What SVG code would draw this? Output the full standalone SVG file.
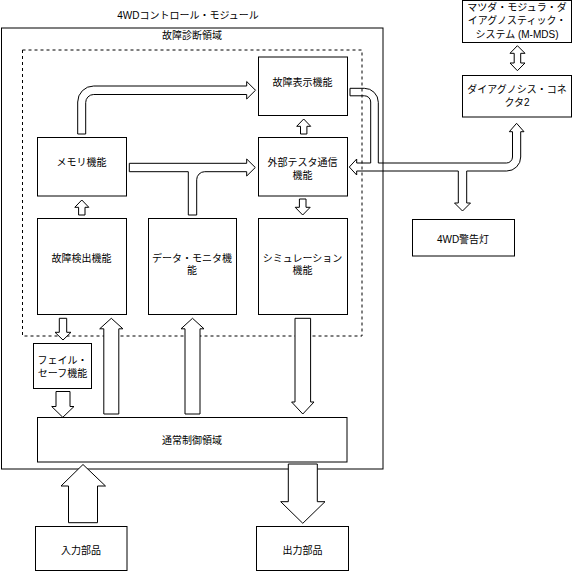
<svg xmlns="http://www.w3.org/2000/svg" width="573" height="572" viewBox="0 0 573 572">
<style>
.box{fill:#fff;stroke:#000;stroke-width:1}
.cont{fill:none;stroke:#000;stroke-width:1}
.dash{fill:none;stroke:#000;stroke-width:1;stroke-dasharray:3 3}
.arr{fill:#fff;stroke:#000;stroke-width:1;stroke-linejoin:miter}
.arrn{fill:none;stroke:#000;stroke-width:1}
text{font-family:"Liberation Sans","Noto Sans CJK JP",sans-serif;font-size:10px;fill:#000;text-anchor:middle}
</style>
<rect x="0" y="0" width="573" height="572" fill="#fff"/>
<g id="container-4wd">
<rect class="cont" x="1.5" y="28" width="381.5" height="441"/>
<text x="188" y="19">4WDコントロール・モジュール</text>
</g>
<g id="container-diag">
<rect class="dash" x="22.5" y="50" width="339.5" height="286"/>
<text x="192" y="38.5">故障診断領域</text>
</g>
<g id="node-display">
<rect class="box" x="258.5" y="57" width="89" height="58.5"/>
<text x="302.5" y="85.5">故障表示機能</text>
</g>
<g id="node-memory">
<rect class="box" x="37.5" y="137.5" width="89" height="58.5"/>
<text x="81.5" y="165.5">メモリ機能</text>
</g>
<g id="node-tester">
<rect class="box" x="258.5" y="137.5" width="89" height="58.5"/>
<text x="302.5" y="165.5">外部テスタ通信</text>
<text x="302.5" y="179">機能</text>
</g>
<g id="node-detect">
<rect class="box" x="37.5" y="218.5" width="89" height="96"/>
<text x="81.5" y="261.5">故障検出機能</text>
</g>
<g id="node-monitor">
<rect class="box" x="148.5" y="218.5" width="88" height="96"/>
<text x="192" y="261.5">データ・モニタ機</text>
<text x="192" y="274">能</text>
</g>
<g id="node-sim">
<rect class="box" x="258.5" y="218.5" width="89" height="96"/>
<text x="302.5" y="261.5">シミュレーション</text>
<text x="302.5" y="274">機能</text>
</g>
<g id="node-failsafe">
<rect class="box" x="33.5" y="343.5" width="58" height="45"/>
<text x="62.5" y="364.3">フェイル・</text>
<text x="62.5" y="376.7">セーフ機能</text>
</g>
<g id="node-normal">
<rect class="box" x="37.5" y="417.5" width="309.5" height="44.5"/>
<text x="192" y="443.5">通常制御領域</text>
</g>
<g id="node-input">
<rect class="box" x="35.5" y="526.5" width="91.5" height="44"/>
<text x="81" y="553.5">入力部品</text>
</g>
<g id="node-output">
<rect class="box" x="256.5" y="526.5" width="92" height="44"/>
<text x="302.5" y="553.5">出力部品</text>
</g>
<g id="node-mmds">
<rect class="box" x="462.5" y="0.5" width="109" height="42"/>
<text x="517" y="11">マツダ・モジュラ・ダ</text>
<text x="517" y="24.3">イアグノスティック・</text>
<text x="517" y="38">システム (M-MDS)</text>
</g>
<g id="node-connector">
<rect class="box" x="462.5" y="75.5" width="109" height="41.5"/>
<text x="517" y="92.7">ダイアグノシス・コネ</text>
<text x="517" y="106">クタ2</text>
</g>
<g id="node-lamp">
<rect class="box" x="412.5" y="219.5" width="102" height="36.5"/>
<text x="463" y="243">4WD警告灯</text>
</g>
<g id="connectors">
<!-- memory -> display -->
<path class="arr" d="M77.7,134 L77.7,102 A16,16 0 0 1 93.7,86 L246.7,86 L246.7,81.5 L255.5,90.25 L246.7,99 L246.7,94.5 L93.7,94.5 A8,8 0 0 0 85.7,102.5 L85.7,134 Z"/>
<!-- memory -> tester, monitor -> tester -->
<path class="arr" d="M129.3,163.3 L246.7,163.3 L246.7,159 L255.3,167.5 L246.7,176 L246.7,171.7 L204.7,171.7 A8,8 0 0 0 196.7,179.7 L196.7,215 L188.3,215 L188.3,171.7 L129.3,171.7 Z"/>
<!-- detect -> memory -->
<path class="arr" d="M78.6,215 L78.6,207.3 L74.8,207.3 L81.8,200 L88.8,207.3 L85,207.3 L85,215 Z"/>
<!-- tester -> display -->
<path class="arr" d="M300.5,134 L300.5,126.3 L296.7,126.3 L303.7,119 L310.7,126.3 L306.9,126.3 L306.9,134 Z"/>
<!-- tester -> sim -->
<path class="arr" d="M299.4,199 L299.4,207.3 L295.2,207.3 L302.7,215 L310.2,207.3 L306,207.3 L306,199 Z"/>
<!-- detect -> failsafe -->
<path class="arr" d="M59.3,318.3 L59.3,332.3 L55,332.3 L63,340 L71,332.3 L66.7,332.3 L66.7,318.3 Z"/>
<!-- failsafe -> normal -->
<path class="arr" d="M56,391.5 L56,406.5 L51.7,406.5 L62.8,417.3 L74,406.5 L70,406.5 L70,391.5 Z"/>
<!-- normal -> detect -->
<path class="arr" d="M103.8,414 L103.8,328.8 L99.7,328.8 L111.3,318.3 L122.9,328.8 L118.8,328.8 L118.8,414 Z"/>
<!-- normal -> monitor -->
<path class="arr" d="M185,414 L185,328.8 L181,328.8 L192.5,318.3 L204,328.8 L200,328.8 L200,414 Z"/>
<!-- sim -> normal -->
<path class="arr" d="M295,318.3 L295,402 L291.6,402 L302.8,414 L314,402 L310.6,402 L310.6,318.3 Z"/>
<!-- input -> normal -->
<path class="arr" d="M68.5,522.7 L68.5,486 L61,486 L83,464.5 L105.5,486 L97.5,486 L97.5,522.7 Z"/>
<!-- normal -> output -->
<path class="arr" d="M288.3,464 L288.3,501.7 L280.7,501.7 L302.8,523.3 L325,501.7 L317.3,501.7 L317.3,464 Z"/>
<!-- mmds <-> connector -->
<path class="arr" d="M517.4,45.7 L525,53.3 L520.7,53.3 L520.7,63 L525,63 L517.4,70.7 L510,63 L514.2,63 L514.2,53.3 L510,53.3 Z"/>
<!-- display/tester <-> connector / lamp -->
<path class="arrn" d="M350,88.3 L364.3,88.3 A14,14 0 0 1 378.3,102.3 L378.3,163 L506.5,163 A6,6 0 0 0 512.5,157 L512.5,131.7 L509.3,131.7 L516.6,123.3 L524,131.7 L520.7,131.7 L520.7,157 A14,14 0 0 1 506.7,171 L466.7,171 L466.7,203 L470.5,203 L462.5,211 L454.5,203 L458.3,203 L458.3,171 L356.7,171 L356.7,175 L349.3,167 L356.7,159 L356.7,163 L370.7,163 L370.7,102 A6.2,6.2 0 0 0 364.5,95.8 L350,95.8 Z"/>
</g>
</svg>
